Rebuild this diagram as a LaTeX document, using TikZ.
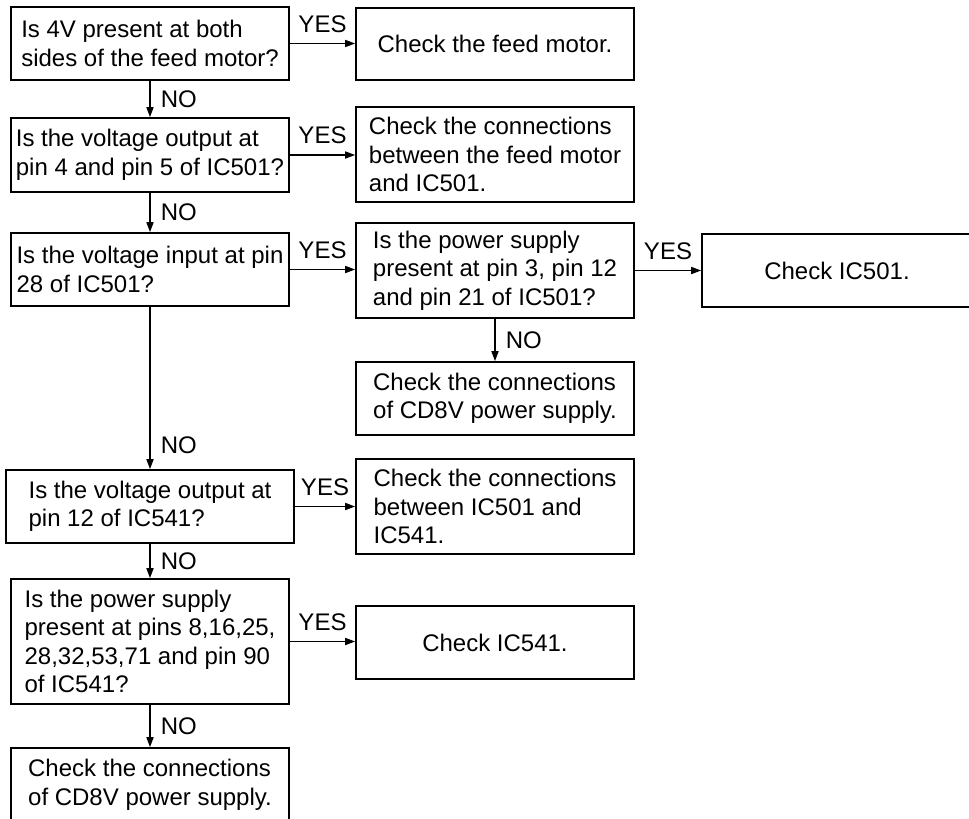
\documentclass[tikz,border=0pt]{standalone}
\usepackage{fontspec}
\setmainfont{Liberation Sans}
\usetikzlibrary{arrows.meta}
\begin{document}
\begin{tikzpicture}[x=1pt,y=-1pt,line width=1.6pt,
  qbox/.style={draw,rectangle,align=left,inner sep=0pt,minimum width=278pt,
    font=\fontsize{24}{28.5}\selectfont},
  link/.style={-{Triangle[length=10pt,width=7pt]}},
  lbl/.style={font=\fontsize{24}{27}\selectfont,inner sep=2pt}]
  \useasboundingbox (0,0) rectangle (969,819);
  \clip (0,0) rectangle (969,819);
  % left column
  \node[qbox,minimum height=73pt] (q1) at (150,43.5) {Is 4V present at both\\sides of the feed motor?};
  \node[qbox,minimum height=74pt] (q2) at (150,155) {Is the voltage output at\\pin 4 and pin 5 of IC501?};
  \node[qbox,minimum height=73pt] (q3) at (150,269.5) {Is the voltage input at pin\\28 of IC501?};
  \node[qbox,minimum height=73pt,minimum width=288pt] (q4) at (150,506.5) {Is the voltage output at\\pin 12 of IC541?};
  \node[qbox,minimum height=125pt] (q5) at (150,641.5) {Is the power supply\\present at pins 8,16,25,\\28,32,53,71 and pin 90\\of IC541?};
  \node[qbox,minimum height=74pt] (a6) at (150,785) {Check the connections\\of CD8V power supply.};
  % right columns
  \node[qbox,minimum height=72pt] (a1) at (495,44) {Check the feed motor.};
  \node[qbox,minimum height=95pt] (a2) at (495,154.5) {Check the connections\\between the feed motor\\and IC501.};
  \node[qbox,minimum height=95pt] (q3b) at (495,270.5) {Is the power supply\\present at pin 3, pin 12\\and pin 21 of IC501?};
  \node[qbox,minimum height=73pt] (a3b) at (495,398.5) {Check the connections\\of CD8V power supply.};
  \node[qbox,minimum height=73pt,minimum width=270pt] (a3) at (837,270.5) {Check IC501.};
  \node[qbox,minimum height=95pt] (a4) at (495,506.5) {Check the connections\\between IC501 and\\IC541.};
  \node[qbox,minimum height=73pt] (a5) at (495,642.5) {Check IC541.};
  % YES branches
  \draw[link] (q1.east) -- node[lbl,above=8pt] {YES} (q1.east -| a1.west);
  \draw[link] (q2.east) -- node[lbl,above=8pt] {YES} (q2.east -| a2.west);
  \draw[link] (q3.east) -- node[lbl,above=8pt] {YES} (q3.east -| q3b.west);
  \draw[link] (q3b.east) -- node[lbl,above=8pt] {YES} (q3b.east -| a3.west);
  \draw[link] (q4.east) -- node[lbl,above=8pt] {YES} (q4.east -| a4.west);
  \draw[link] (q5.east) -- node[lbl,above=8pt] {YES} (q5.east -| a5.west);
  % NO branches
  \draw[link] (q1.south) -- node[lbl,right=8pt] {NO} (q2.north);
  \draw[link] (q2.south) -- node[lbl,right=8pt] {NO} (q3.north);
  \draw[link] (q3.south) -- node[lbl,right=8pt,pos=0.85] {NO} (q4.north);
  \draw[link] (q3b.south) -- node[lbl,right=8pt] {NO} (a3b.north);
  \draw[link] (q4.south) -- node[lbl,right=8pt] {NO} (q5.north);
  \draw[link] (q5.south) -- node[lbl,right=8pt] {NO} (a6.north);
\end{tikzpicture}
\end{document}
